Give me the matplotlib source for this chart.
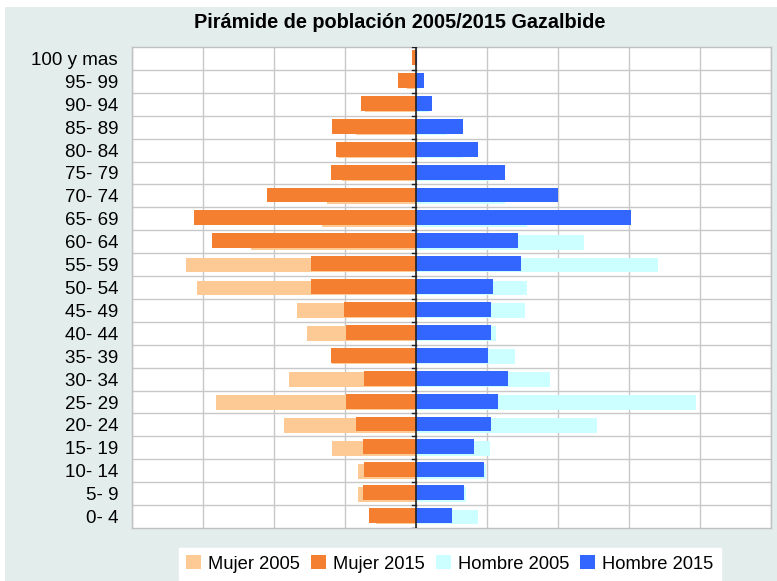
import matplotlib
matplotlib.use("Agg")
import matplotlib.pyplot as plt
from matplotlib.patches import Rectangle
import numpy as np

plt.rcParams['font.family'] = ['Liberation Sans', 'DejaVu Sans']

categories = ["0- 4", "5- 9", "10- 14", "15- 19", "20- 24", "25- 29", "30- 34",
              "35- 39", "40- 44", "45- 49", "50- 54", "55- 59", "60- 64", "65- 69",
              "70- 74", "75- 79", "80- 84", "85- 89", "90- 94", "95- 99", "100 y mas"]
mujer_2005 = [56, 81, 81, 119, 186, 281, 179, 119, 154, 167, 309, 324, 233, 132,
              126, 104, 110, 84, 72, 12, 2]
mujer_2015 = [66, 75, 73, 75, 84, 98, 73, 120, 98, 101, 148, 148, 287, 313,
              210, 120, 113, 119, 78, 25, 5]
hombre_2005 = [87, 71, 98, 104, 255, 394, 189, 139, 113, 154, 157, 341, 236, 157,
               125, 104, 66, 43, 18, 5, 0]
hombre_2015 = [50, 68, 96, 81, 106, 116, 129, 101, 106, 106, 109, 148, 144, 303,
               200, 125, 87, 66, 23, 11, 2]

W, H = 777, 581
fig = plt.figure(figsize=(W / 100, H / 100), dpi=100, facecolor='white')
bg = Rectangle((5 / W, 0), 1 - 5 / W, 1 - 7 / H, transform=fig.transFigure,
               facecolor='#e3eeec', edgecolor='none', zorder=-10)
fig.patches.append(bg)

ax = fig.add_axes([132 / W, 1 - 528 / H, (771 - 132) / W, (528 - 47) / H])
ax.set_facecolor('white')

y = np.arange(len(categories))
h = 0.65
c_m05, c_m15, c_h05, c_h15 = '#fdca96', '#f57f30', '#ccffff', '#3366ff'

b1 = ax.barh(y - 0.02, -np.array(mujer_2005), height=h, color=c_m05, zorder=2, label='Mujer 2005')
b2 = ax.barh(y + 0.04, -np.array(mujer_2015), height=h, color=c_m15, zorder=3, label='Mujer 2015')
b3 = ax.barh(y - 0.02, hombre_2005, height=h, color=c_h05, zorder=2, label='Hombre 2005')
b4 = ax.barh(y + 0.04, hombre_2015, height=h, color=c_h15, zorder=3, label='Hombre 2015')

ax.set_xlim(-400, 500)
ax.set_ylim(-0.5, len(categories) - 0.5)
ax.set_xticks(np.arange(-400, 501, 100))
ax.set_xticklabels([])
ax.tick_params(axis='x', length=0)
ax.set_yticks(y)
ax.set_yticklabels(categories, fontsize=13.5)
ax.tick_params(axis='y', length=0, pad=10)

ax.grid(axis='x', color='#c8c8c8', linewidth=1, zorder=0)
for b in np.arange(0.5, len(categories) - 0.5, 1):
    ax.axhline(b, color='#c8c8c8', linewidth=1, zorder=1)
ax.set_axisbelow(True)

ax.axvline(0, color='#222222', linewidth=1.2, zorder=5)
for b in np.arange(-0.5, len(categories), 1):
    ax.plot([-5, 0], [b, b], color='#222222', linewidth=1, zorder=5)

for s in ax.spines.values():
    s.set_color('#c0c0c0')
    s.set_linewidth(1)

fig.text(400 / W, 1 - 22 / H, 'Pirámide de población 2005/2015 Gazalbide',
         ha='center', va='center', fontsize=14.3, fontweight='bold')

leg = fig.legend(handles=[b1, b2, b3, b4], loc='center', ncol=4,
                 bbox_to_anchor=(450 / W, 1 - 564 / H), fontsize=13.2,
                 frameon=True, fancybox=False, edgecolor='white', facecolor='white',
                 framealpha=1, handlelength=0.8, handleheight=0.8, handletextpad=0.4,
                 columnspacing=0.6, borderpad=0.4)

fig.savefig('out.png', dpi=100, facecolor='white')
